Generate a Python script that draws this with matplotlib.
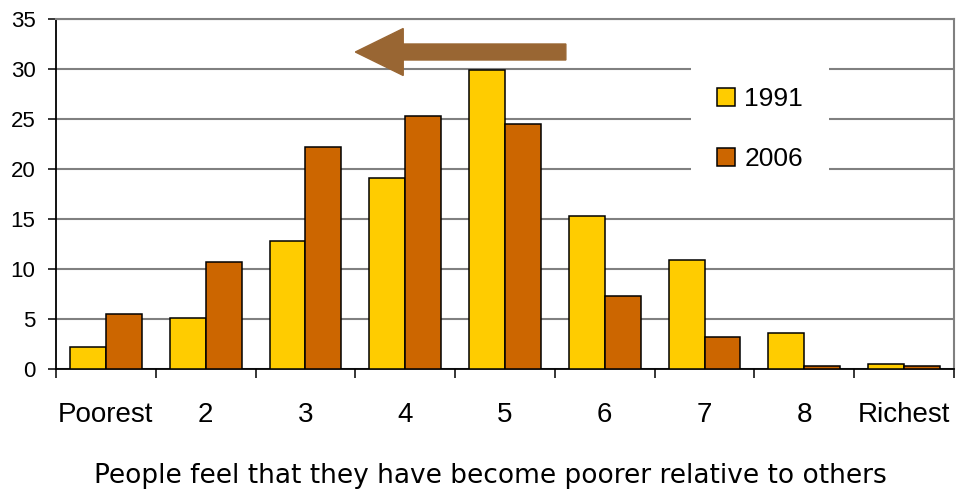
import numpy as np
import matplotlib
matplotlib.use("Agg")
import matplotlib.pyplot as plt
from matplotlib.patches import FancyArrow

# share of people in each relative-wealth group, per survey year
groups = ["Poorest", "2", "3", "4", "5", "6", "7", "8", "Richest"]
share_1991 = [2.2, 5.1, 12.8, 19.1, 29.9, 15.3, 10.9, 3.6, 0.5]
share_2006 = [5.5, 10.7, 22.2, 25.3, 24.5, 7.3, 3.2, 0.3, 0.3]
years = ["1991", "2006"]

C_1991 = "#FFCC00"
C_2006 = "#CC6600"
GRID = "#808080"

plt.rcParams["font.family"] = ["Liberation Sans", "DejaVu Sans"]

fig = plt.figure(figsize=(9.58, 4.93), dpi=100)
ax = fig.add_axes([56 / 958, 1 - 369 / 493, (954 - 56) / 958, (369 - 19) / 493])

x = np.arange(len(groups))
w = 0.36
ax.bar(x - w / 2, share_1991, w, color=C_1991, edgecolor="black", linewidth=1.1,
       label=years[0], zorder=3)
ax.bar(x + w / 2, share_2006, w, color=C_2006, edgecolor="black", linewidth=1.1,
       label=years[1], zorder=3)

ax.set_xlim(-0.5, len(groups) - 0.5)
ax.set_ylim(0, 35)
ax.set_yticks(np.arange(0, 36, 5))
ax.yaxis.grid(True, color=GRID, linewidth=1.5, zorder=0)
ax.set_axisbelow(True)

# tick marks between groups, labels under each group
ax.set_xticks(np.arange(len(groups) + 1) - 0.5)
ax.set_xticklabels([])
ax.set_xticks(x, minor=True)
ax.set_xticklabels(groups, minor=True, fontsize=20)
ax.tick_params(axis="x", which="major", direction="out", length=6.5, width=1.1, color="black")
ax.tick_params(axis="x", which="minor", length=0, pad=23.5)
ax.tick_params(axis="y", direction="out", length=5.8, width=1.1, labelsize=16, pad=9)

for side in ["left", "bottom"]:
    ax.spines[side].set_color("black")
    ax.spines[side].set_linewidth(1.3)
for side in ["top", "right"]:
    ax.spines[side].set_color(GRID)
    ax.spines[side].set_linewidth(1.5)

# arrow showing the shift towards poorer groups
ax.add_patch(FancyArrow(4.61, 31.7, -2.11, 0, width=1.6, head_width=4.7,
                        head_length=0.48, length_includes_head=True,
                        color="#996633", zorder=4))

leg = ax.legend(loc="upper left", bbox_to_anchor=(691 / 958, 1 - 61 / 493),
                bbox_transform=fig.transFigure, borderaxespad=0, fontsize=19,
                frameon=True, fancybox=False, framealpha=1, facecolor="white",
                edgecolor="none", handlelength=0.68, handleheight=0.68,
                handletextpad=0.34, labelspacing=1.36, borderpad=1.0)
leg.set_zorder(5)

fig.text(490 / 958, 1 - 476 / 493, "People feel that they have become poorer relative to others",
         ha="center", va="center", fontsize=19, family="DejaVu Sans")

fig.savefig("out.png", dpi=100)
